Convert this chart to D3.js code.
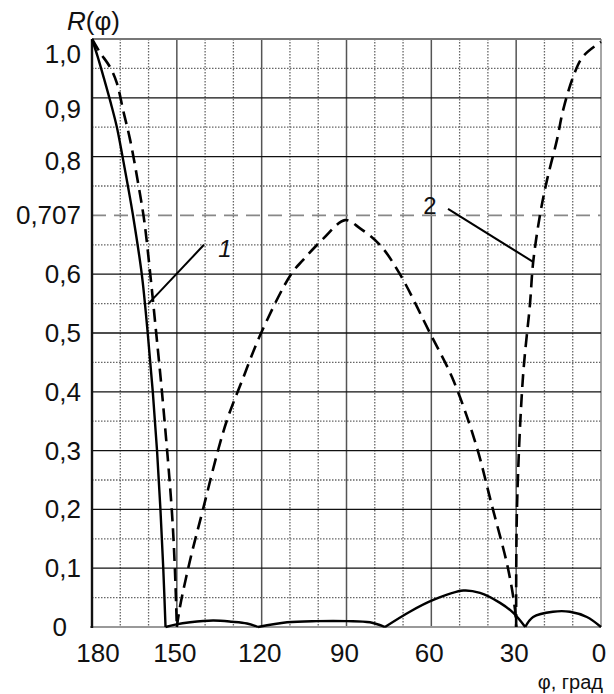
<!DOCTYPE html>
<html>
<head>
<meta charset="utf-8">
<script src="https://cdn.jsdelivr.net/npm/d3@7"></script>
<style>
  html, body { margin: 0; padding: 0; background: #fff; }
  text { font-family: "Liberation Sans", Arial, sans-serif; fill: #111; }
</style>
</head>
<body>
<div id="chart"></div>
<script>
// angle in degrees (descending), R value; zeros mark the nulls between lobes
const curve1 = [
  [180, 1.0], [178, 0.97], [175.6, 0.93], [173.3, 0.89], [171.2, 0.85],
  [169.2, 0.8], [167.3, 0.75], [165.5, 0.7], [162.4, 0.6], [160.3, 0.5],
  [158.5, 0.4], [157, 0.3], [155.8, 0.2], [154.8, 0.1], [154, 0],
  [150.6, 0.004], [145.3, 0.008], [137.2, 0.011], [130.5, 0.009], [125.2, 0.006], [121.3, 0],
  [111, 0.008], [100.4, 0.01], [89.8, 0.01], [81.7, 0.008], [76.4, 0],
  [67.6, 0.026], [59.3, 0.046], [48.7, 0.062], [42.8, 0.058], [35.7, 0.041], [31, 0.024], [26.8, 0],
  [24, 0.017], [17, 0.026], [11, 0.026], [5, 0.017], [0, 0]
]
const curve2 = [
  [180, 1.0], [177.3, 0.978], [173.6, 0.952], [171.2, 0.925], [169, 0.879],
  [166.5, 0.828], [163.7, 0.755], [161.5, 0.69], [159.4, 0.6], [157.3, 0.5],
  [155, 0.386], [151.8, 0.2], [150.7, 0.1], [150, 0],
  [148.9, 0.034], [145.3, 0.114], [140.8, 0.199], [135.4, 0.301], [131.9, 0.357],
  [127, 0.418], [120.2, 0.5], [109.6, 0.6], [105.4, 0.624], [98.3, 0.66], [90.5, 0.692],
  [85.2, 0.678], [78.2, 0.65], [71.1, 0.6], [60.5, 0.5], [52.7, 0.425], [44.5, 0.315],
  [38.6, 0.207], [32.9, 0.1], [30.4, 0.029], [30, 0],
  [29.7, 0.204], [27.6, 0.425], [25.1, 0.55], [24, 0.62], [21.6, 0.7], [19.1, 0.76],
  [15.6, 0.828], [13.4, 0.879], [9.9, 0.935], [6.4, 0.97], [0, 0.995]
]

const xMajor = [180, 150, 120, 90, 60, 30, 0]
const xMinor = [170, 160, 140, 130, 110, 100, 80, 70, 50, 40, 20, 10]
const yMajor = [0.1, 0.2, 0.3, 0.4, 0.5, 0.6, 0.8, 0.9]
const yMinor = [0.05, 0.15, 0.25, 0.35, 0.45, 0.55, 0.65, 0.75, 0.85, 0.95]
const yTickValues = [1.0, 0.9, 0.8, 0.7, 0.6, 0.5, 0.4, 0.3, 0.2, 0.1, 0]
const yTickLabels = ['1,0', '0,9', '0,8', '0,707', '0,6', '0,5', '0,4', '0,3', '0,2', '0,1', '0']
const refLevel = 0.7   // gridline drawn dashed, labelled 0,707

// leader lines for curve labels: [angle, R] pairs
const leader1 = [[160.2, 0.549], [140.4, 0.65]]
const leader2 = [[54.1, 0.711], [24, 0.621]]
const label1 = [133, 0.645]
const label2 = [60.5, 0.718]

const width = 614
const height = 694

const x = d3.scaleLinear().domain([180, 0]).range([92, 601])
const y = d3.scaleLinear().domain([0, 1]).range([627, 39])

const svg = d3.select('#chart')
  .append('svg')
  .attr('width', width)
  .attr('height', height)

// minor grid (dotted)
svg.selectAll('.vminor')
  .data(xMinor)
  .enter()
  .append('line')
  .attr('x1', d => x(d)).attr('x2', d => x(d))
  .attr('y1', y(1)).attr('y2', y(0))
  .attr('stroke', '#666').attr('stroke-width', 1.3)
  .attr('stroke-dasharray', '1.5,1.5')

svg.selectAll('.hminor')
  .data(yMinor)
  .enter()
  .append('line')
  .attr('x1', x(180)).attr('x2', x(0))
  .attr('y1', d => y(d)).attr('y2', d => y(d))
  .attr('stroke', '#666').attr('stroke-width', 1.3)
  .attr('stroke-dasharray', '1.5,1.5')

// major grid
svg.selectAll('.vmajor')
  .data(xMajor.filter(d => d !== 180))
  .enter()
  .append('line')
  .attr('x1', d => x(d)).attr('x2', d => x(d))
  .attr('y1', y(1)).attr('y2', y(0))
  .attr('stroke', d => d === 0 ? '#888' : '#555')
  .attr('stroke-width', 1.5)

svg.selectAll('.hmajor')
  .data(yMajor)
  .enter()
  .append('line')
  .attr('x1', x(180)).attr('x2', x(0))
  .attr('y1', d => y(d)).attr('y2', d => y(d))
  .attr('stroke', '#111').attr('stroke-width', 1.3)

svg.append('line')
  .attr('x1', x(180)).attr('x2', x(0))
  .attr('y1', y(refLevel)).attr('y2', y(refLevel))
  .attr('stroke', '#888').attr('stroke-width', 1.8)
  .attr('stroke-dasharray', '14,8')

// frame
svg.append('line')
  .attr('x1', x(180)).attr('x2', x(0))
  .attr('y1', y(1)).attr('y2', y(1))
  .attr('stroke', '#777').attr('stroke-width', 2)

svg.append('line')
  .attr('x1', x(180) - 2).attr('x2', x(0))
  .attr('y1', y(0)).attr('y2', y(0))
  .attr('stroke', '#999').attr('stroke-width', 2.2)

svg.append('line')
  .attr('x1', x(180)).attr('x2', x(180))
  .attr('y1', y(1)).attr('y2', y(0) + 1)
  .attr('stroke', '#111').attr('stroke-width', 2.4)

// tick labels
svg.selectAll('.ylab')
  .data(yTickValues)
  .enter()
  .append('text')
  .attr('x', 81)
  .attr('y', d => y(d))
  .attr('dx', d => d === 0 ? -14 : 0)
  .attr('dy', d => d >= 0.95 ? 24 : d >= 0.85 ? 20 : d >= 0.75 ? 13 : 9)
  .attr('text-anchor', 'end')
  .attr('font-size', 26)
  .text((d, i) => yTickLabels[i])

svg.selectAll('.xlab')
  .data(xMajor)
  .enter()
  .append('text')
  .attr('x', d => x(d) + (d === 180 ? 6 : -2))
  .attr('y', 662)
  .attr('text-anchor', 'middle')
  .attr('font-size', 26)
  .text(d => d)

const rLabel = svg.append('text')
  .attr('x', 67)
  .attr('y', 30)
  .attr('font-size', 26)
rLabel.append('tspan').attr('font-style', 'italic').text('R')
rLabel.append('tspan').text('(φ)')

svg.append('text')
  .attr('x', 603)
  .attr('y', 689)
  .attr('text-anchor', 'end')
  .attr('font-size', 20)
  .text('φ,  град')

// curves, drawn lobe by lobe between nulls
const splitLobes = data => {
  const lobes = []
  let current = [data[0]]
  for (let i = 1; i < data.length; i++) {
    current.push(data[i])
    if (data[i][1] === 0 && i < data.length - 1) {
      lobes.push(current)
      current = [data[i]]
    }
  }
  lobes.push(current)
  return lobes
}

const line = d3.line()
  .x(d => x(d[0]))
  .y(d => Math.min(y(d[1]), y(0)))
  .curve(d3.curveCatmullRom.alpha(0.5))

svg.selectAll('.c1')
  .data(splitLobes(curve1))
  .enter()
  .append('path')
  .attr('d', line)
  .attr('fill', 'none')
  .attr('stroke', '#000')
  .attr('stroke-width', 2.4)

svg.selectAll('.c2')
  .data(splitLobes(curve2))
  .enter()
  .append('path')
  .attr('d', line)
  .attr('fill', 'none')
  .attr('stroke', '#000')
  .attr('stroke-width', 2.6)
  .attr('stroke-dasharray', '13,7')

// leader lines and curve numbers
const straight = d3.line().x(d => x(d[0])).y(d => y(d[1]))

svg.selectAll('.leader')
  .data([leader1, leader2])
  .enter()
  .append('path')
  .attr('d', straight)
  .attr('stroke', '#000')
  .attr('stroke-width', 2)

svg.append('text')
  .attr('x', x(label1[0]))
  .attr('y', y(label1[1]) + 9)
  .attr('text-anchor', 'middle')
  .attr('font-size', 24)
  .attr('font-style', 'italic')
  .text('1')

svg.append('text')
  .attr('x', x(label2[0]))
  .attr('y', y(label2[1]) + 9)
  .attr('text-anchor', 'middle')
  .attr('font-size', 24)
  .text('2')
</script>
</body>
</html>
